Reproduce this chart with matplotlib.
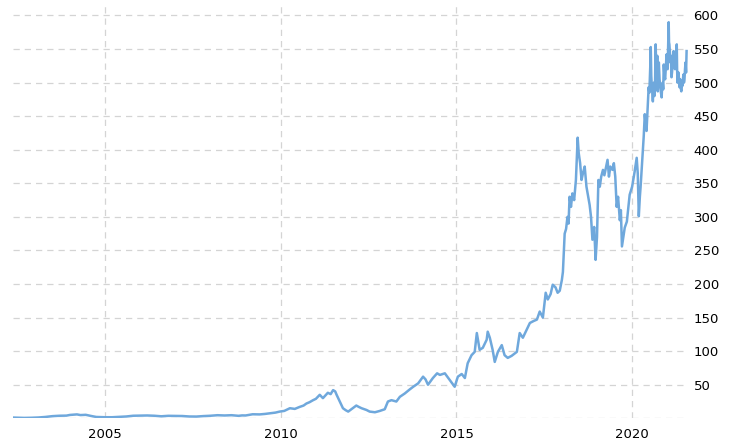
import matplotlib
matplotlib.use("Agg")
import matplotlib.pyplot as plt

# decimal years and closing prices (USD)
years = [
    2002.38, 2002.50, 2002.70, 2002.90, 2003.10, 2003.30, 2003.50, 2003.70, 2003.90,
    2004.00, 2004.20, 2004.30, 2004.45, 2004.60, 2004.75, 2004.90,
    2005.00, 2005.20, 2005.40, 2005.60, 2005.80, 2006.00, 2006.20, 2006.40, 2006.60,
    2006.80, 2007.00, 2007.20, 2007.40, 2007.60, 2007.80, 2008.00, 2008.20, 2008.40,
    2008.60, 2008.80, 2008.90, 2009.00, 2009.20, 2009.40, 2009.55,
    2009.69, 2009.85, 2009.97, 2010.10, 2010.26, 2010.40, 2010.54, 2010.65, 2010.73,
    2010.82, 2010.92, 2011.00, 2011.11, 2011.20, 2011.27, 2011.34, 2011.42, 2011.49,
    2011.55, 2011.59, 2011.68, 2011.77, 2011.85, 2011.92, 2012.05, 2012.15, 2012.22,
    2012.30, 2012.44, 2012.53, 2012.68, 2012.82, 2012.96, 2013.05, 2013.15, 2013.29,
    2013.39, 2013.53, 2013.67, 2013.77, 2013.91, 2014.05, 2014.12, 2014.19, 2014.33,
    2014.45, 2014.53, 2014.67, 2014.81, 2014.95, 2015.04, 2015.15, 2015.24, 2015.32,
    2015.43, 2015.52, 2015.58, 2015.66, 2015.75, 2015.86, 2015.89, 2015.95, 2016.03,
    2016.09, 2016.18, 2016.29, 2016.37, 2016.46, 2016.57, 2016.72, 2016.80, 2016.89,
    2017.00, 2017.09, 2017.20, 2017.29, 2017.37, 2017.46, 2017.54, 2017.60, 2017.68,
    2017.74, 2017.82, 2017.88, 2017.94, 2018.00, 2018.03, 2018.08, 2018.12, 2018.16,
    2018.19, 2018.22, 2018.26, 2018.30, 2018.35, 2018.40, 2018.45, 2018.48, 2018.52,
    2018.56, 2018.60, 2018.65, 2018.70, 2018.75, 2018.79, 2018.83, 2018.87, 2018.92,
    2018.96, 2019.00, 2019.04, 2019.08, 2019.12, 2019.17, 2019.21, 2019.25, 2019.30,
    2019.34, 2019.38, 2019.44, 2019.48, 2019.52, 2019.56, 2019.60, 2019.65, 2019.68,
    2019.71, 2019.75, 2019.79, 2019.85, 2019.93, 2020.00, 2020.07, 2020.13, 2020.16,
    2020.19, 2020.22, 2020.24, 2020.27, 2020.30, 2020.33, 2020.36, 2020.39, 2020.41,
    2020.44, 2020.46, 2020.47, 2020.49, 2020.50, 2020.52, 2020.53, 2020.545, 2020.56,
    2020.575, 2020.59, 2020.605, 2020.62, 2020.635, 2020.65, 2020.66, 2020.67, 2020.685,
    2020.70, 2020.715, 2020.73, 2020.745, 2020.76, 2020.78, 2020.80, 2020.82, 2020.84,
    2020.855, 2020.87, 2020.885, 2020.90, 2020.92, 2020.94, 2020.96, 2020.98, 2020.995,
    2021.01, 2021.025, 2021.04, 2021.05, 2021.06, 2021.075, 2021.09, 2021.105, 2021.12,
    2021.135, 2021.15, 2021.165, 2021.18, 2021.20, 2021.22, 2021.235, 2021.25, 2021.26,
    2021.27, 2021.28, 2021.29, 2021.305, 2021.32, 2021.335, 2021.35, 2021.365, 2021.38,
    2021.39, 2021.40, 2021.415, 2021.43, 2021.445, 2021.46, 2021.475, 2021.49, 2021.505,
    2021.52, 2021.535, 2021.55,
]
prices = [
    1.1, 0.9, 0.6, 0.8, 1.2, 2.0, 3.2, 3.8, 4.0,
    5.0, 5.8, 4.8, 5.2, 3.5, 2.0, 1.7,
    1.6, 1.6, 2.2, 2.7, 3.8, 4.0, 4.2, 3.8, 3.0,
    3.7, 3.5, 3.4, 2.7, 2.6, 3.3, 3.8, 4.6, 4.2,
    4.6, 3.7, 4.3, 4.2, 6.0, 5.8, 6.5,
    7.5, 8.5, 10, 11, 15, 14, 17, 19, 22,
    24, 27, 29, 35, 30, 34, 38, 36, 42,
    40, 35, 25, 15, 12, 10, 15, 19, 17,
    15, 12.4, 10, 9, 11, 13.5, 25, 27, 25,
    32, 37, 43, 47, 52, 62, 58, 50, 60,
    67, 64.6, 67, 57, 47, 62, 66, 60, 82,
    94, 99, 127, 102, 105, 117, 129, 120, 102,
    84, 99, 109, 94, 90, 93, 99, 127, 120,
    132, 142, 145, 147, 159, 150, 187, 177, 185,
    199, 195, 187, 190, 206, 218, 275, 282, 300,
    290, 330, 315, 335, 325, 355, 418, 395, 380,
    355, 365, 375, 345, 330, 318, 300, 266, 285,
    236, 270, 355, 345, 360, 370, 362, 372, 385,
    360, 375, 370, 380, 360, 315, 330, 295, 310,
    256, 270, 284, 293, 333, 345, 367, 388, 365,
    301, 330, 344, 370, 397, 420, 453, 435, 428,
    460, 480, 493, 485, 500, 530, 553, 510, 495,
    485, 472, 490, 500, 480, 490, 530, 557, 520,
    510, 540, 487, 505, 530, 505, 495, 485, 478,
    495, 500, 490, 527, 510, 505, 525, 542, 525,
    520, 555, 590, 560, 557, 545, 530, 540, 508,
    515, 525, 535, 547, 530, 520, 535, 540, 550,
    557, 520, 500, 510, 515, 505, 493, 505, 500,
    490, 487, 500, 495, 505, 512, 500, 505, 520,
    530, 515, 547,
]

x_ticks = [2005, 2010, 2015, 2020]
x_tick_labels = ["2005", "2010", "2015", "2020"]
y_ticks = [0, 50, 100, 150, 200, 250, 300, 350, 400, 450, 500, 550, 600]
y_tick_labels = [""] + [str(v) for v in y_ticks[1:]]

fig = plt.figure(figsize=(7.32, 4.46), dpi=100)
ax = fig.add_axes([13 / 732, (446 - 418.3) / 446, (688 - 13) / 732, (418.3 - 3) / 446])

ax.plot(years, prices, color="#6fa8dc", linewidth=1.8, solid_joinstyle="round")

ax.set_xlim(2002.38, 2021.59)
ax.set_ylim(0, 618.6)

ax.set_xticks(x_ticks)
ax.set_xticklabels(x_tick_labels)
ax.set_yticks(y_ticks)
ax.set_yticklabels(y_tick_labels)

ax.yaxis.tick_right()
ax.tick_params(axis="both", length=0, labelsize=9.5, colors="#000000")
ax.tick_params(axis="y", pad=4)
ax.tick_params(axis="x", pad=7)

ax.grid(True, color="#d4d4d4", linestyle=(0, (5, 4)), linewidth=0.9)
ax.set_axisbelow(True)
for s in ax.spines.values():
    s.set_visible(False)

fig.savefig("out.png", dpi=100)
